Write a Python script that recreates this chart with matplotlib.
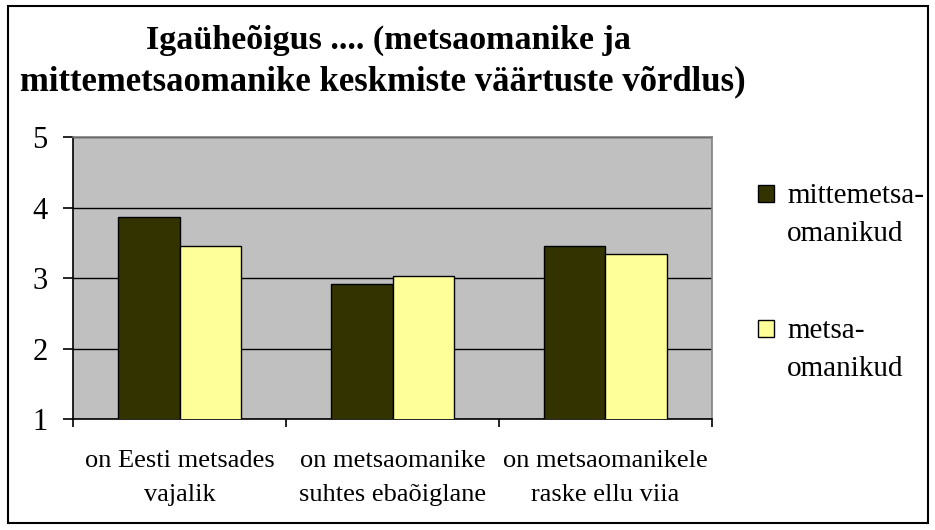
import numpy as np
import matplotlib
matplotlib.use("Agg")
import matplotlib.pyplot as plt
from matplotlib.patches import Rectangle

# data
categories = ["on Eesti metsades\nvajalik",
              "on metsaomanike\nsuhtes ebaõiglane",
              "on metsaomanikele\nraske ellu viia"]
series_names = ["mittemetsa-\nomanikud", "metsa-\nomanikud"]
mittemetsa = [3.86, 2.92, 3.46]
metsa = [3.46, 3.03, 3.34]
colors = ["#333300", "#FFFF99"]
yticks = [1, 2, 3, 4, 5]
title_lines = ["Igaüheõigus .... (metsaomanike ja",
               "mittemetsaomanike keskmiste väärtuste võrdlus)"]

plt.rcParams['font.family'] = ['Liberation Serif', 'DejaVu Serif']

W, H = 935, 530
fig = plt.figure(figsize=(W / 100, H / 100), dpi=100)
fig.patch.set_facecolor("white")

# outer chart border
fig.patches.append(Rectangle((8 / W, 1 - 523 / H), (928 - 8) / W, (523 - 6) / H,
                             transform=fig.transFigure, fill=False,
                             edgecolor="black", linewidth=1.5))

ax = fig.add_axes([73.3 / W, 1 - 419.3 / H, (711.7 - 73.3) / W, (419.3 - 137) / H])
ax.set_facecolor("#C0C0C0")

x = np.arange(len(categories))
bw = 0.29
ax.bar(x - bw / 2, mittemetsa, bw, color=colors[0], edgecolor="black",
       linewidth=1.0, zorder=3)
ax.bar(x + bw / 2, metsa, bw, color=colors[1], edgecolor="black",
       linewidth=1.0, zorder=3)

ax.set_ylim(1, 5)
ax.set_xlim(-0.5, len(categories) - 0.5)
ax.set_yticks(yticks)
ax.set_yticklabels([str(t) for t in yticks], fontsize=22)
ax.yaxis.grid(True, color="black", linewidth=1.0, zorder=1)
ax.set_axisbelow(True)

# category boundaries as major ticks, labels on minor ticks
ax.set_xticks(np.arange(-0.5, len(categories), 1.0))
ax.set_xticklabels([])
ax.set_xticks(x, minor=True)
ax.set_xticklabels(categories, minor=True, fontsize=19, linespacing=1.7)
ax.tick_params(axis="x", which="major", direction="out", length=6, width=1.2)
ax.tick_params(axis="x", which="minor", length=0, pad=22)
ax.tick_params(axis="y", direction="out", length=7.5, width=1.2, pad=11)

for side in ["top", "right"]:
    ax.spines[side].set_color("#808080")
    ax.spines[side].set_linewidth(1.2)
for side in ["left", "bottom"]:
    ax.spines[side].set_color("black")
    ax.spines[side].set_linewidth(1.2)

# title
fig.text(389 / W, 1 - 48.3 / H, title_lines[0], ha="center", va="baseline",
         fontsize=24.5, fontweight="bold")
fig.text(383 / W, 1 - 90 / H, title_lines[1], ha="center", va="baseline",
         fontsize=25, fontweight="bold")

# legend
leg_tops = [185, 320]
for name, col, top in zip(series_names, colors, leg_tops):
    fig.patches.append(Rectangle((758 / W, 1 - (top + 17) / H), 16 / W, 17 / H,
                                 transform=fig.transFigure, facecolor=col,
                                 edgecolor="black", linewidth=1.0))
    for i, line in enumerate(name.split("\n")):
        fig.text(787 / W, 1 - (top + 18 + i * 38) / H, line, ha="left",
                 va="baseline", fontsize=21)

fig.savefig("out.png", dpi=100)
